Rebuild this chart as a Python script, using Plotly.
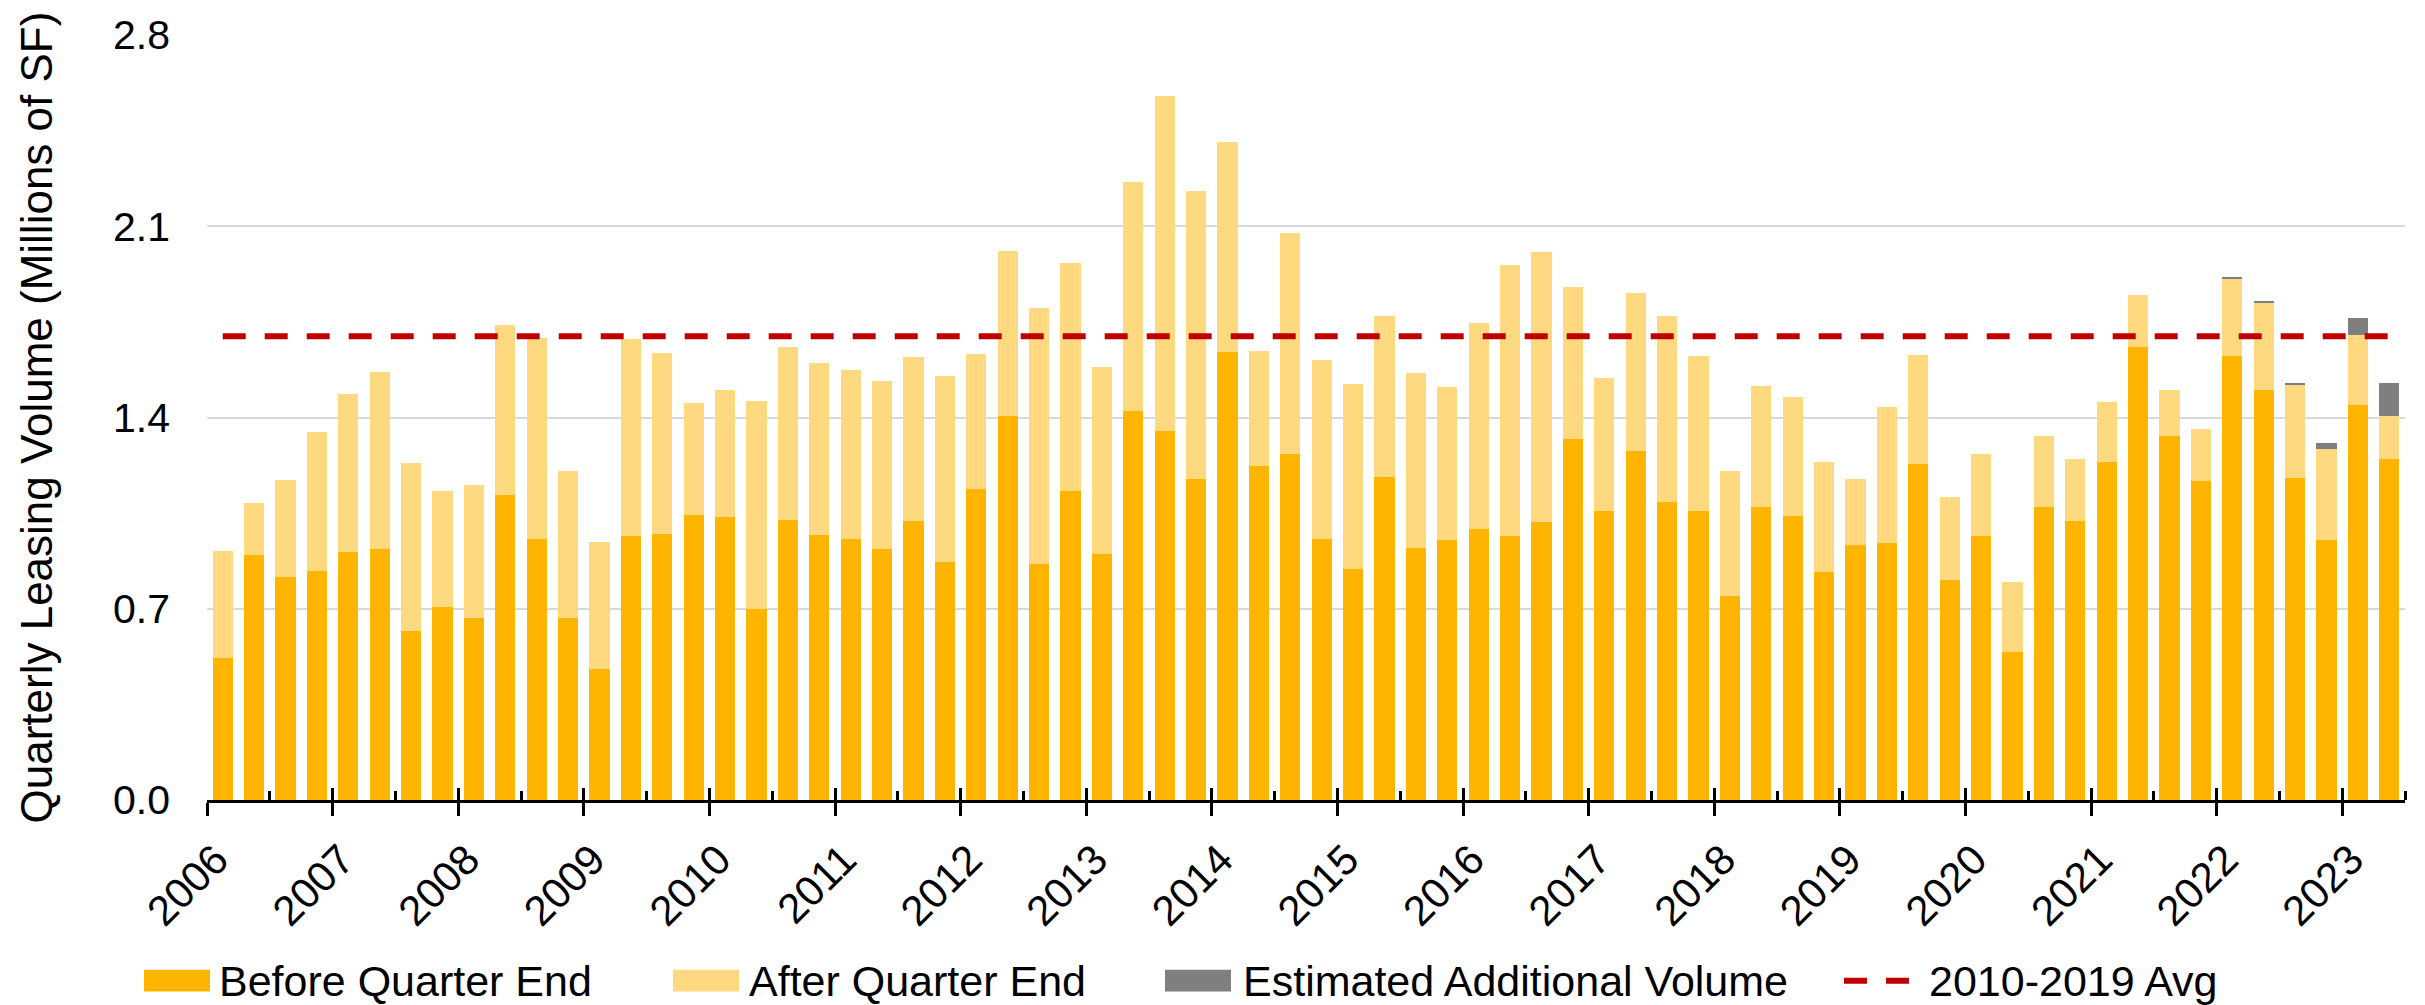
import plotly.graph_objects as go

# Quarterly leasing volume, millions of SF, 2006 Q1 through 2023 Q2
years = list(range(2006, 2024))

before = [
    0.520, 0.898, 0.816, 0.839, 0.906, 0.919, 0.617, 0.708, 0.665, 1.116,
    0.957, 0.665, 0.478, 0.965, 0.972, 1.042, 1.037, 0.698, 1.025, 0.969,
    0.957, 0.918, 1.021, 0.870, 1.139, 1.407, 0.863, 1.131, 0.901, 1.424,
    1.352, 1.175, 1.640, 1.222, 1.267, 0.957, 0.844, 1.182, 0.921, 0.950,
    0.993, 0.965, 1.016, 1.322, 1.057, 1.278, 1.091, 1.057, 0.746, 1.072,
    1.040, 0.835, 0.932, 0.940, 1.228, 0.807, 0.968, 0.543, 1.071, 1.022,
    1.237, 1.658, 1.332, 1.167, 1.626, 1.501, 1.178, 0.951, 1.444, 1.247,
]

after = [
    0.390, 0.189, 0.354, 0.508, 0.581, 0.649, 0.615, 0.423, 0.487, 0.624,
    0.735, 0.540, 0.465, 0.722, 0.664, 0.412, 0.464, 0.762, 0.633, 0.629,
    0.616, 0.614, 0.599, 0.682, 0.495, 0.601, 0.937, 0.835, 0.685, 0.839,
    1.226, 1.054, 0.768, 0.421, 0.807, 0.652, 0.680, 0.591, 0.641, 0.561,
    0.752, 0.994, 0.988, 0.557, 0.488, 0.579, 0.679, 0.567, 0.457, 0.444,
    0.435, 0.403, 0.243, 0.498, 0.401, 0.301, 0.299, 0.254, 0.263, 0.227,
    0.220, 0.190, 0.170, 0.192, 0.284, 0.320, 0.342, 0.334, 0.258, 0.157,
]

estimated = [0.0] * 64 + [0.004, 0.005, 0.006, 0.020, 0.064, 0.121]

avg_2010_2019 = 1.697
y_ticks = [0.0, 0.7, 1.4, 2.1, 2.8]

n = len(before)
quarter_labels = [f"{2006 + i // 4} Q{i % 4 + 1}" for i in range(n)]
x = list(range(n))

# Colours
ORANGE = "#FFB500"
LIGHT = "#FFD980"
GREY = "#7F7F7F"
RED = "#C00000"
FONT = "Arial, Liberation Sans, sans-serif"

# Canvas and plot-area geometry (pixels)
W, H = 2425, 1005
L, R, T, B = 207, 20, 25, 205
PW, PH = W - L - R, H - T - B


def paper_x(px):
    return (px - L) / PW


def paper_y(py):
    return (H - B - py) / PH


year_ticks = [4 * k - 0.5 for k in range(len(years))]
mid_year_ticks = [4 * k + 1.5 for k in range(len(years))]
x_range = [-0.5, n - 0.5]

fig = go.Figure()

fig.add_trace(go.Bar(
    x=x, y=before, name="Before Quarter End", marker_color=ORANGE,
    marker_line_width=0, customdata=quarter_labels,
    hovertemplate="%{customdata}: %{y:.2f}<extra>Before Quarter End</extra>",
))
fig.add_trace(go.Bar(
    x=x, y=after, name="After Quarter End", marker_color=LIGHT,
    marker_line_width=0, customdata=quarter_labels,
    hovertemplate="%{customdata}: %{y:.2f}<extra>After Quarter End</extra>",
))
fig.add_trace(go.Bar(
    x=x, y=estimated, name="Estimated Additional Volume", marker_color=GREY,
    marker_line_width=0, customdata=quarter_labels,
    hovertemplate="%{customdata}: %{y:.3f}<extra>Estimated Additional Volume</extra>",
))
fig.add_trace(go.Scatter(
    x=[x[0], x[-1]], y=[avg_2010_2019, avg_2010_2019], mode="lines",
    name="2010-2019 Avg", line=dict(color=RED, width=6, dash="23px,19px"),
    hoverinfo="skip",
))
# Carrier trace for the overlay axis that draws the inner half of the year ticks
fig.add_trace(go.Scatter(
    x=[x[0]], y=[0], xaxis="x2", mode="markers",
    marker=dict(opacity=0), hoverinfo="skip", showlegend=False,
))

# Hand-built legend row beneath the axis
legend_y = 983
legend_items = [
    ("rect", ORANGE, 144, 210, 217, "Before Quarter End"),
    ("rect", LIGHT, 673, 739, 747, "After Quarter End"),
    ("rect", GREY, 1165, 1231, 1241, "Estimated Additional Volume"),
    ("dash", RED, 1844, 1909, 1927, "2010-2019 Avg"),
]
shapes = []
annotations = []
for kind, color, x0, x1, tx, label in legend_items:
    if kind == "rect":
        shapes.append(dict(
            type="rect", xref="paper", yref="paper",
            x0=paper_x(x0), x1=paper_x(x1),
            y0=paper_y(legend_y + 11), y1=paper_y(legend_y - 11),
            fillcolor=color, line=dict(width=0),
        ))
    else:
        shapes.append(dict(
            type="line", xref="paper", yref="paper",
            x0=paper_x(x0), x1=paper_x(x1),
            y0=paper_y(legend_y), y1=paper_y(legend_y),
            line=dict(color=color, width=6, dash="23px,19px"),
        ))
    annotations.append(dict(
        text=label, xref="paper", yref="paper",
        x=paper_x(tx), y=paper_y(legend_y), xanchor="left", yanchor="middle",
        showarrow=False, font=dict(family=FONT, size=43, color="black"),
    ))

annotations.append(dict(
    text="Quarterly Leasing Volume (Millions of SF)",
    xref="paper", yref="paper", x=paper_x(36), y=0.5,
    xanchor="center", yanchor="middle", textangle=-90, showarrow=False,
    font=dict(family=FONT, size=44, color="black"),
))

fig.update_layout(
    width=W, height=H,
    margin=dict(l=L, r=R, t=T, b=B, pad=0),
    paper_bgcolor="white", plot_bgcolor="white",
    barmode="stack", bargap=0.36,
    showlegend=False,
    font=dict(family=FONT, color="black"),
    xaxis=dict(
        range=x_range, tickmode="array", tickvals=year_ticks,
        ticktext=[str(y) for y in years], tickangle=-45,
        tickfont=dict(size=42, color="black"),
        ticklabelstandoff=2, ticklabelshift=9,
        ticks="outside", ticklen=13, tickwidth=2.5, tickcolor="black",
        showline=True, linecolor="black", linewidth=3,
        showgrid=False, zeroline=False,
        minor=dict(
            tickmode="array", tickvals=mid_year_ticks, ticks="inside",
            ticklen=9, tickwidth=2.5, tickcolor="black", showgrid=False,
        ),
    ),
    xaxis2=dict(
        overlaying="x", anchor="y", side="bottom", range=x_range,
        tickmode="array", tickvals=year_ticks, ticks="inside",
        ticklen=12, tickwidth=2.5, tickcolor="black",
        showticklabels=False, showline=False, showgrid=False, zeroline=False,
    ),
    yaxis=dict(
        range=[0, 2.8], tickmode="array", tickvals=y_ticks, tickformat=".1f",
        tickfont=dict(size=41, color="black"), ticklabelstandoff=36,
        showgrid=True, gridcolor="#D9D9D9", gridwidth=2,
        zeroline=False, showline=False, ticks="",
    ),
    shapes=shapes,
    annotations=annotations,
)

fig.write_html("out.html")
